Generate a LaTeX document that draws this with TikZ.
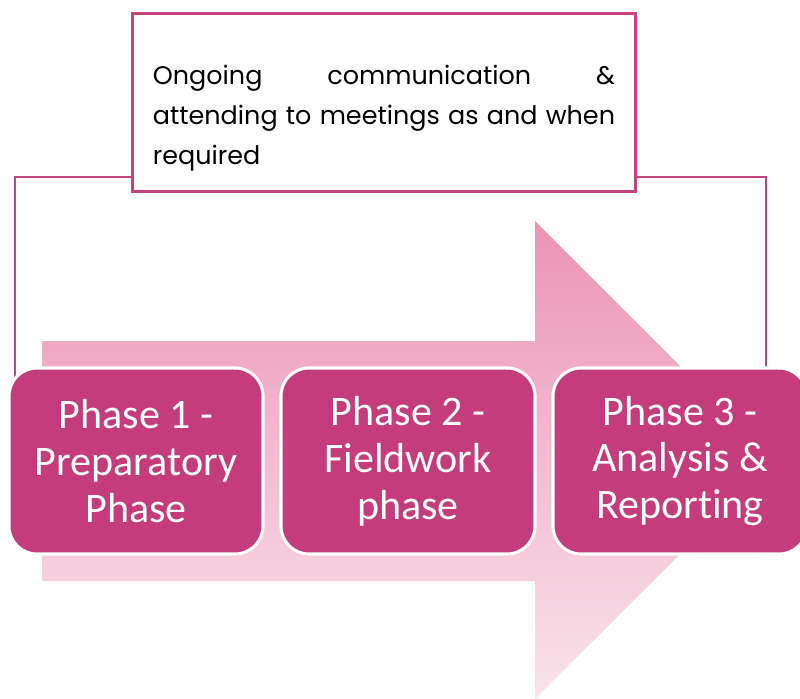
\documentclass[tikz,border=0pt]{standalone}
\usepackage{fontspec}
\setmainfont{Carlito}[Ligatures=NoCommon]
\newfontfamily\notefont{Poppins}[Ligatures=NoCommon]
\usetikzlibrary{calc}
\definecolor{phasered}{HTML}{C43C7C}
\definecolor{linkred}{HTML}{C8427F}
\definecolor{arrowtop}{HTML}{EC94B6}
\definecolor{arrowbot}{HTML}{F9E3EB}
\hyphenpenalty=10000
\begin{document}
\begin{tikzpicture}[x=0.025cm, y=-0.025cm,
   phase/.style={rectangle, rounded corners=0.7cm, fill=phasered, draw=white,
     line width=2.2pt, minimum width=6.35cm, minimum height=4.65cm,
     text=white, align=center, font=\fontsize{29.9}{33.4}\selectfont},
   note/.style={rectangle, draw=linkred, fill=white, line width=2.1pt,
     minimum width=12.575cm, minimum height=4.45cm, text width=11.55cm,
     align=justify, font=\notefont\fontsize{18.1}{28.45}\selectfont},
   link/.style={draw=linkred, line width=1.1pt}]
   \useasboundingbox (0,0) rectangle (800,698);
   % big arrow behind the phases
   \shade[top color=arrowtop, bottom color=arrowbot]
     (42,341) -- (535,341) -- (535,221) -- (774,460) -- (535,699)
     -- (535,581) -- (42,581) -- cycle;
   \node[note] (note) at (384,102.5)
     {\rule{0pt}{1.25cm}Ongoing communication \& attending to meetings as and when required};
   % side lines from the note down to the outer phases
   \draw[link] ($(note.south west)+(0,-16)$) -| (15,390);
   \draw[link] ($(note.south east)+(0,-16)$) -| (766,390);
   \foreach \i/\x/\t in
     {1/136/{Phase 1 -\\Preparatory\\Phase},
      2/408/{Phase 2 -\\Fieldwork\\phase},
      3/680/{Phase 3 -\\Analysis \&\\Reporting}}
     \node[phase] (p\i) at (\x,461) {\t};
\end{tikzpicture}
\end{document}
